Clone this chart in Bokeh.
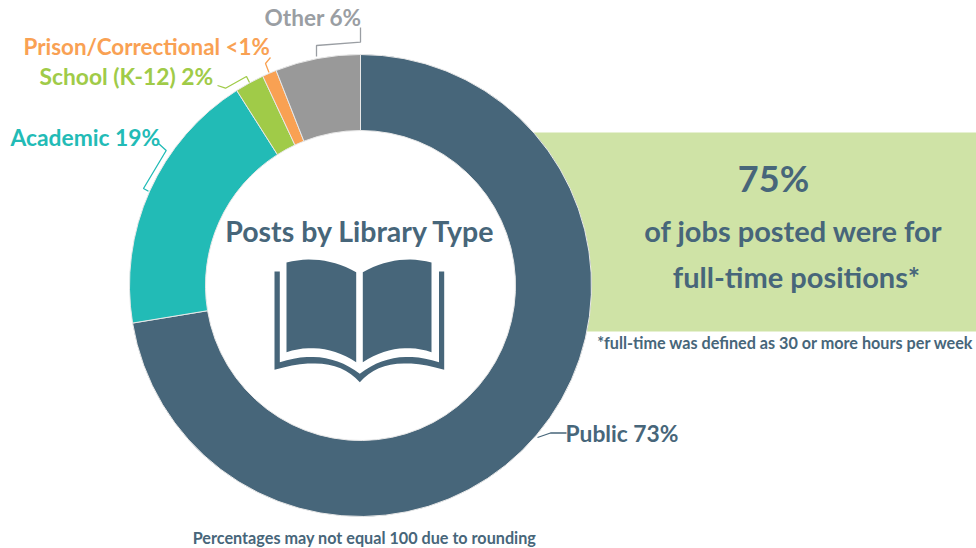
import math
import numpy as np
from bokeh.plotting import figure
from bokeh.models import Range1d, ColumnDataSource
from bokeh.core.properties import value
from bokeh.embed import file_html
from bokeh.resources import INLINE

categories = ["Public", "Academic", "School (K-12)", "Prison/Correctional", "Other"]
shares = [72.4, 18.6, 2.05, 1.0, 5.95]
labels = ["Public 73%", "Academic 19%", "School (K-12) 2%", "Prison/Correctional <1%", "Other 6%"]
colors = ["#47667A", "#22BBB6", "#A0CB48", "#F9A153", "#999999"]
text_colors = ["#47667A", "#22BBB6", "#A0CB48", "#F9A153", "#9A9EA3"]

FONT = value("Lato")
H = 548
def Y(y):
    return H - np.asarray(y, dtype=float)

p = figure(width=976, height=548, x_range=Range1d(0, 976), y_range=Range1d(0, 548),
           x_axis_location=None, y_axis_location=None, toolbar_location=None,
           output_backend="svg", min_border=0, outline_line_color=None,
           background_fill_color="white", border_fill_color="white")
p.grid.visible = False

# green band
p.quad(left=[525], right=[976], top=[Y(132)], bottom=[Y(331)],
       fill_color="#CFE3A6", line_color=None)

# donut
CX, CY = 360, float(Y(285))
cum = np.concatenate([[0], np.cumsum(shares)]) / 100
src = ColumnDataSource(dict(
    start=(math.pi / 2 - 2 * math.pi * cum[:-1]).tolist(),
    end=(math.pi / 2 - 2 * math.pi * cum[1:]).tolist(),
    color=colors, name=categories,
))
p.annular_wedge(x=CX, y=CY, inner_radius=155, outer_radius=231, start_angle="start",
                end_angle="end", direction="clock", fill_color="color",
                line_color="#E8E8E8", line_width=1, source=src)

# callouts
def callout(xs, ys, color):
    p.line(xs, Y(ys), line_color=color, line_width=1.3)

callout([360, 360, 316, 316], [27, 41.7, 45, 56], text_colors[4])
callout([270, 265, 268.5], [57, 63, 72], colors[3])
callout([217, 225, 246, 249], [85, 87.7, 76, 82], colors[2])
callout([158, 165.7, 143, 148], [143, 150, 188, 190.7], colors[1])
callout([537, 550, 566], [437, 432.5, 432.5], colors[0])

def label(x, y, txt, color, size, align="left", style="bold"):
    p.text([x], [Y(y)], text=[txt], text_color=color, text_font=FONT,
           text_font_size=size, text_font_style=style, text_align=align,
           text_baseline="middle")

label(565, 432, labels[0], text_colors[0], "22.8px")
label(10, 136, labels[1], text_colors[1], "22.8px")
label(39, 75, labels[2], text_colors[2], "22.8px")
label(23, 46, labels[3], text_colors[3], "22.4px")
label(264, 17, labels[4], text_colors[4], "22.6px")

label(360, 230, "Posts by Library Type", colors[0], "28.5px", "center")
label(773, 177, "75%", colors[0], "36px", "center")
label(793, 230, "of jobs posted were for", colors[0], "29px", "center")
label(796, 276, "full-time positions*", colors[0], "29px", "center")
label(785, 342, "*full-time was defined as 30 or more hours per week", colors[0], "16.2px", "center")
label(364, 537, "Percentages may not equal 100 due to rounding", colors[0], "16.2px", "center")

# book icon
def bez(a, b, c, n=14):
    t = np.linspace(0, 1, n)
    a, b, c = map(np.array, (a, b, c))
    return [tuple(v) for v in ((1 - t)[:, None] ** 2 * a + 2 * (t * (1 - t))[:, None] * b + t[:, None] ** 2 * c)]

left = bez((286, 262), (322, 253), (355.7, 271.7)) + bez((355.7, 361.7), (322, 340), (286, 351.7))
right = bez((362.3, 271.7), (396, 253), (431, 262)) + bez((431, 351.7), (396, 340), (362.3, 361.7))
cover = ([(274, 271), (279.3, 271), (279.3, 361.7)] + bez((279.3, 361.7), (325, 347), (359.3, 373.3))
         + bez((359.3, 373.3), (393, 347), (438.5, 361.7)) + [(438.5, 271), (443.7, 271), (443.7, 369.3)]
         + bez((443.7, 369.3), (385, 352), (359.3, 381.7)) + bez((359.3, 381.7), (333, 352), (274, 369.3)))
for shape in (left, right, cover):
    xs, ys = zip(*shape)
    p.patch(list(xs), Y(ys), fill_color=colors[0], line_color=None)

open("out.html", "w").write(file_html(p, INLINE))
